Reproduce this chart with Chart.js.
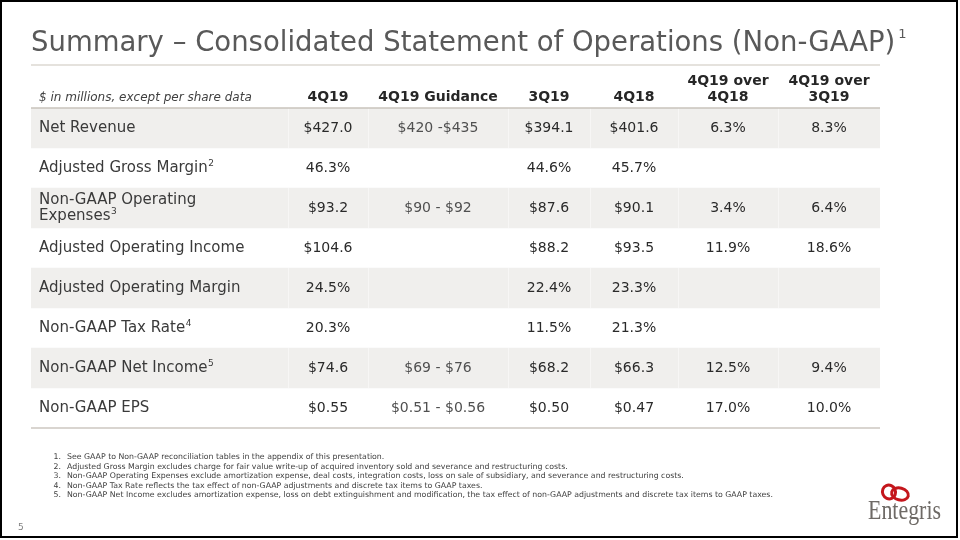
<!DOCTYPE html>
<html>
<head>
<meta charset="utf-8">
<script src="https://cdn.jsdelivr.net/npm/chart.js@4/dist/chart.umd.min.js"></script>
<style>
  html, body { margin: 0; padding: 0; background: #fff; }
  #wrap { width: 960px; height: 540px; }
</style>
</head>
<body>
<div id="wrap"><canvas id="chart" width="960" height="540"></canvas></div>
<script>
// table rows (label lines + footnote marker)
const rowLabels = [
    ["Net Revenue"],
    ["Adjusted Gross Margin"],
    ["Non-GAAP Operating", "Expenses"],
    ["Adjusted Operating Income"],
    ["Adjusted Operating Margin"],
    ["Non-GAAP Tax Rate"],
    ["Non-GAAP Net Income"],
    ["Non-GAAP EPS"]
];
const rowNotes = ["", "2", "3", "", "", "4", "5", ""];
const rowUnits = ["m", "pct", "m", "m", "pct", "pct", "m", "eps"];

// column headers
const stubHeader = "$ in millions, except per share data";
const colHeaders = [["4Q19"], ["4Q19 Guidance"], ["3Q19"], ["4Q18"], ["4Q19 over", "4Q18"], ["4Q19 over", "3Q19"]];

// values, one array per column
const q4_19 = [427.0, 46.3, 93.2, 104.6, 24.5, 20.3, 74.6, 0.55];
const guidance = ["$420 -$435", "", "$90 - $92", "", "", "", "$69 - $76", "$0.51 - $0.56"];
const q3_19 = [394.1, 44.6, 87.6, 88.2, 22.4, 11.5, 68.2, 0.50];
const q4_18 = [401.6, 45.7, 90.1, 93.5, 23.3, 21.3, 66.3, 0.47];
const yoyGrowth = [6.3, null, 3.4, 11.9, null, null, 12.5, 17.0];
const qoqGrowth = [8.3, null, 6.4, 18.6, null, null, 9.4, 10.0];

// footnotes under the table
const footnotes = [
    "See GAAP to Non-GAAP reconciliation tables in the appendix of this presentation.",
    "Adjusted Gross Margin excludes charge for fair value write-up of acquired inventory sold and severance and restructuring costs.",
    "Non-GAAP Operating Expenses exclude amortization expense, deal costs, integration costs, loss on sale of subsidiary, and severance and restructuring costs.",
    "Non-GAAP Tax Rate reflects the tax effect of non-GAAP adjustments and discrete tax items to GAAP taxes.",
    "Non-GAAP Net Income excludes amortization expense, loss on debt extinguishment and modification, the tax effect of non-GAAP adjustments and discrete tax items to GAAP taxes."
];

// layout: widths of the label column and the value columns, in x-scale units
const stubWidth = 257;
const colWidths = [80, 140, 82, 88, 100, 102];
const tableSpan = stubWidth + colWidths.reduce((a, b) => a + b, 0);

const FONT = "'DejaVu Sans', sans-serif";

function fmt(v, unit) {
    if (v === null || v === undefined || v === "") return "";
    if (typeof v === "string") return v;
    if (unit === "pct") return v.toFixed(1) + "%";
    if (unit === "eps") return "$" + v.toFixed(2);
    return "$" + v.toFixed(1);
}

// cell strings for each column
const columns = [
    q4_19.map((v, i) => fmt(v, rowUnits[i])),
    guidance,
    q3_19.map((v, i) => fmt(v, rowUnits[i])),
    q4_18.map((v, i) => fmt(v, rowUnits[i])),
    yoyGrowth.map(v => fmt(v, "pct")),
    qoqGrowth.map(v => fmt(v, "pct"))
];

// left edge of each value column in x-scale units
function colStart(c) {
    let s = stubWidth;
    for (let k = 0; k < c; k++) s += colWidths[k];
    return s;
}

const tablePlugin = {
    id: "tablePlugin",
    beforeDraw(chart) {
        const c = chart.ctx;
        c.save();
        c.fillStyle = "#ffffff";
        c.fillRect(0, 0, chart.width, chart.height);
        c.restore();
    },
    afterDatasetsDraw(chart) {
        const c = chart.ctx;
        const x = chart.scales.x, y = chart.scales.y;
        const ca = chart.chartArea;
        const band = (y.getPixelForValue(1) - y.getPixelForValue(0));
        c.save();

        // faint cell separators inside shaded rows
        c.strokeStyle = "rgba(255,255,255,0.45)";
        c.lineWidth = 1;
        rowLabels.forEach((_, r) => {
            if (r % 2 !== 0) return;
            const yc = y.getPixelForValue(r);
            for (let k = 0; k < colWidths.length; k++) {
                const px = Math.round(x.getPixelForValue(colStart(k))) + 0.5;
                c.beginPath();
                c.moveTo(px, yc - band / 2);
                c.lineTo(px, yc + band / 2);
                c.stroke();
            }
        });

        // horizontal rules
        const left = x.getPixelForValue(0), right = x.getPixelForValue(tableSpan);
        c.lineWidth = 1.5;
        c.strokeStyle = "#dcd8d2";
        c.beginPath(); c.moveTo(left, ca.top - 43); c.lineTo(right, ca.top - 43); c.stroke();
        c.strokeStyle = "#c9c3bb";
        c.beginPath(); c.moveTo(left, ca.top); c.lineTo(right, ca.top); c.stroke();
        c.strokeStyle = "#cdc7c0";
        c.beginPath(); c.moveTo(left, ca.bottom); c.lineTo(right, ca.bottom); c.stroke();

        // header row
        c.textBaseline = "alphabetic";
        c.fillStyle = "#404040";
        c.textAlign = "left";
        c.font = "italic 12px " + FONT;
        c.fillText(stubHeader, left + 8, ca.top - 7);
        c.fillStyle = "#262626";
        c.font = "bold 14px " + FONT;
        c.textAlign = "center";
        colHeaders.forEach((lines, k) => {
            const cx = x.getPixelForValue(colStart(k) + colWidths[k] / 2);
            lines.forEach((t, j) => {
                c.fillText(t, cx, ca.top - 7 - (lines.length - 1 - j) * 16);
            });
        });

        // body rows
        c.textBaseline = "middle";
        rowLabels.forEach((lines, r) => {
            const yc = y.getPixelForValue(r);
            c.textAlign = "left";
            c.fillStyle = "#3a3a3a";
            let lastW = 0, lastY = yc;
            lines.forEach((t, j) => {
                const ly = yc + (j - (lines.length - 1) / 2) * 16;
                c.font = "15px " + FONT;
                c.fillText(t, left + 8, ly);
                lastW = c.measureText(t).width;
                lastY = ly;
            });
            if (rowNotes[r]) {
                c.font = "9px " + FONT;
                c.fillText(rowNotes[r], left + 8 + lastW + 0.5, lastY - 4);
            }
            c.textAlign = "center";
            c.font = "14px " + FONT;
            columns.forEach((vals, k) => {
                if (!vals[r]) return;
                c.fillStyle = k === 1 ? "#505050" : "#2a2a2a";
                const cx = x.getPixelForValue(colStart(k) + colWidths[k] / 2);
                c.fillText(vals[r], cx, yc);
            });
        });
        c.restore();
    },
    afterDraw(chart) {
        const c = chart.ctx;
        c.save();
        // title
        c.fillStyle = "#595959";
        c.textBaseline = "alphabetic";
        c.textAlign = "left";
        c.font = "27.5px " + FONT;
        const title = "Summary \u2013 Consolidated Statement of Operations (Non-GAAP)";
        c.fillText(title, 31, 51);
        const tw = c.measureText(title).width;
        c.font = "13px " + FONT;
        c.fillText("1", 31 + tw + 3, 38);

        // footnotes
        c.fillStyle = "#404040";
        c.font = "7.8px " + FONT;
        footnotes.forEach((t, i) => {
            const by = 459 + i * 9.6;
            c.textAlign = "right";
            c.fillText((i + 1) + ".", 61, by);
            c.textAlign = "left";
            c.fillText(t, 67, by);
        });

        // page number
        c.fillStyle = "#7f7f7f";
        c.font = "9px " + FONT;
        c.fillText("5", 18, 530);

        // logo rings
        c.strokeStyle = "#c4161c";
        c.lineWidth = 3;
        c.beginPath(); c.ellipse(889, 492, 6.5, 7, -0.4, 0, Math.PI * 2); c.stroke();
        c.beginPath(); c.ellipse(900, 494, 8.5, 6, 0.25, 0, Math.PI * 2); c.stroke();
        // logo word
        c.fillStyle = "#6e6a66";
        c.font = "27px 'Liberation Serif', serif";
        const word = "Entegris";
        const ww = c.measureText(word).width;
        c.translate(868, 519);
        c.scale(73 / ww, 1);
        c.fillText(word, 0, 0);
        c.restore();

        // slide frame
        c.save();
        c.strokeStyle = "#000";
        c.lineWidth = 2;
        c.strokeRect(1, 1, 956, 536);
        c.restore();
    }
};

window.ctx = document.getElementById("chart");
window.chart = new Chart(ctx, {
    type: "bar",
    data: {
        labels: rowLabels.map(l => l.join(" ")),
        datasets: [{
            label: "shading",
            data: rowLabels.map((_, i) => i % 2 === 0 ? [0, tableSpan] : null),
            backgroundColor: "#f0efed",
            borderWidth: 0,
            barPercentage: 1,
            categoryPercentage: 1
        }]
    },
    options: {
        indexAxis: "y",
        responsive: false,
        animation: false,
        devicePixelRatio: 1,
        layout: { padding: { left: 31, right: 80, top: 108, bottom: 112 } },
        plugins: { legend: { display: false }, tooltip: { enabled: false } },
        scales: {
            x: { type: "linear", min: 0, max: tableSpan, display: false },
            y: { type: "category", display: false, offset: true }
        }
    },
    plugins: [tablePlugin]
});
</script>
</body>
</html>
